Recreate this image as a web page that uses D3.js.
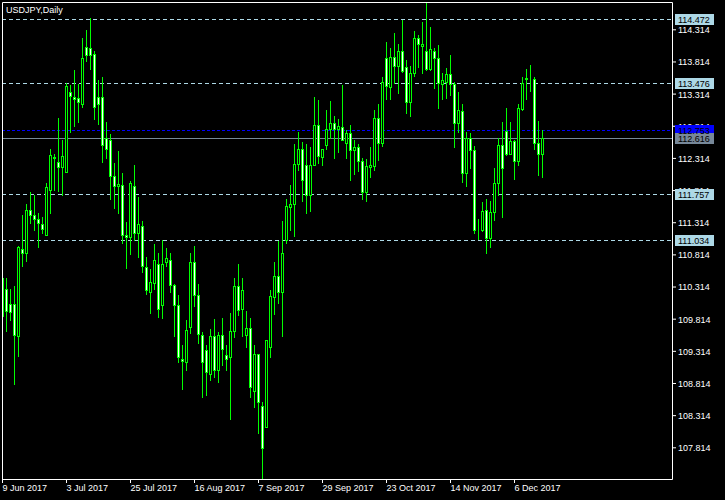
<!DOCTYPE html>
<html>
<head>
<meta charset="utf-8">
<script src="https://cdn.jsdelivr.net/npm/d3@7/dist/d3.min.js"></script>
<style>
  html, body { margin: 0; padding: 0; background: #000; }
  svg { display: block; }
  text { font-family: "Liberation Sans", Arial, sans-serif; font-size: 9px; }
</style>
</head>
<body>
<svg id="chart" width="725" height="500"></svg>
<script>
// ---- data (USDJPY, Daily, 9 Jun 2017 .. 15 Dec 2017) ----
const openP = [109.85,110.28,110.05,110.04,109.54,110.89,110.84,111.51,111.43,111.36,111.29,111.12,111.82,112.33,112.25,112.17,112.10,113.34,113.26,113.24,
113.16,114.04,114.02,113.93,113.26,113.26,112.62,112.60,112.03,111.87,111.89,111.11,111.08,111.87,111.15,111.26,110.61,110.23,110.37,110.66,
110.02,110.70,110.73,110.34,110.03,109.19,109.14,109.69,110.69,110.19,109.56,109.33,108.96,109.55,109.02,109.56,109.25,109.22,109.62,110.33,
109.97,109.56,109.67,108.69,109.27,108.45,108.13,109.37,110.15,110.47,110.23,111.04,111.55,111.60,112.22,112.46,112.21,111.74,112.21,112.82,
112.33,112.51,112.76,112.85,112.76,112.80,112.55,112.70,112.43,112.48,112.27,111.78,112.18,112.19,112.93,112.54,113.86,113.42,113.89,113.75,
113.97,113.72,113.18,113.63,114.18,114.05,113.97,113.69,113.98,113.86,113.46,113.49,113.62,113.46,112.86,113.04,112.08,112.62,112.44,111.20,
111.19,111.51,111.07,111.47,111.92,112.52,112.74,112.38,112.57,112.27,113.08,113.55,113.55,113.54,112.54,112.38];
const highP = [110.50,110.45,110.27,110.33,110.95,111.42,111.60,111.78,111.74,111.45,111.39,111.93,112.46,112.38,112.93,112.60,113.48,113.45,113.68,113.46,
114.18,114.31,114.49,113.97,113.53,113.57,112.87,112.69,112.23,112.42,112.08,111.31,111.95,112.20,111.70,111.33,110.77,110.58,110.98,110.83,
111.04,110.92,110.83,110.35,110.18,109.40,109.80,110.84,110.94,110.36,109.61,109.41,109.65,109.81,109.61,109.83,109.41,109.90,110.44,110.67,
110.44,109.93,109.83,109.40,109.27,108.52,109.49,110.26,110.70,111.02,111.33,111.67,111.89,112.53,112.72,112.56,112.53,112.48,113.26,113.22,
112.46,113.06,113.20,112.96,112.92,113.45,112.75,112.83,112.59,112.53,112.31,112.29,112.48,113.06,113.15,113.58,114.11,114.02,114.26,114.09,
114.46,113.84,113.75,114.29,114.23,114.43,114.73,114.35,114.02,114.07,113.63,113.71,113.92,113.49,113.34,113.15,112.72,112.70,112.50,111.37,
111.63,111.68,111.64,112.15,112.63,112.87,113.09,112.87,112.60,113.16,113.58,113.69,113.76,113.57,112.89,112.75];
const lowP = [109.78,109.62,109.80,108.80,109.24,110.63,110.71,111.30,111.19,110.93,111.15,111.11,111.45,111.81,111.80,111.73,112.10,112.72,112.81,112.88,
113.11,113.82,113.70,112.92,112.84,112.25,112.32,111.68,111.54,111.46,110.99,110.60,110.82,111.04,110.77,110.54,110.20,109.90,110.27,109.84,
109.83,110.63,110.23,109.54,109.14,108.72,109.01,109.59,110.01,109.44,108.59,108.62,108.86,108.91,108.83,109.09,109.01,108.25,109.53,109.87,
109.54,109.37,108.60,108.44,108.03,107.31,108.13,109.22,109.89,110.06,109.54,110.99,111.19,111.10,112.13,111.65,111.46,111.49,112.21,112.24,
112.21,112.46,112.62,112.32,112.41,112.60,112.32,111.97,112.06,112.11,111.67,111.65,112.02,112.13,112.28,112.50,113.23,113.23,113.48,113.33,
113.65,113.02,112.96,113.59,113.73,113.63,113.68,113.68,113.40,113.09,113.23,113.24,113.30,112.48,112.72,111.94,111.88,112.16,111.14,111.05,
111.17,110.84,110.93,111.35,111.73,111.40,112.36,112.37,111.98,112.20,113.06,113.23,113.36,112.45,112.05,112.02];
const closeP = [110.45,109.94,109.92,109.56,110.93,110.83,111.51,111.43,111.36,111.30,111.21,111.86,112.36,112.32,112.17,112.35,113.44,113.27,113.23,113.18,
113.86,113.91,113.92,113.11,113.15,112.52,112.46,112.03,111.88,111.91,111.12,111.09,111.93,111.14,111.29,110.63,110.26,110.38,110.73,109.97,
110.67,110.75,110.34,110.03,109.22,109.15,109.64,110.69,110.19,109.58,109.14,108.98,109.55,109.01,109.56,109.35,109.19,109.63,110.33,109.95,
110.26,109.67,108.75,109.27,108.52,107.81,109.49,110.16,110.47,110.23,110.83,111.56,111.60,112.22,112.46,111.97,111.74,112.21,112.82,112.34,
112.45,112.76,112.85,112.76,112.81,112.60,112.70,112.43,112.48,112.27,111.79,112.19,112.20,112.93,112.54,113.49,113.43,113.89,113.75,113.97,
113.67,113.18,113.63,114.18,114.08,114.08,113.69,114.00,113.86,113.48,113.52,113.62,113.46,112.86,113.06,112.08,112.62,112.43,111.19,111.19,
111.49,111.07,111.47,111.92,112.52,112.15,112.37,112.57,112.27,113.09,113.48,113.54,113.55,112.54,112.38,112.62];

const xTickIndex  = [0, 16, 32, 48, 64, 80, 96, 112, 128];
const xTickLabels = ["9 Jun 2017","3 Jul 2017","25 Jul 2017","16 Aug 2017","7 Sep 2017","29 Sep 2017","23 Oct 2017","14 Nov 2017","6 Dec 2017"];
const yTicks = [114.314,113.814,113.314,112.814,112.314,111.814,111.314,110.814,110.314,109.814,109.314,108.814,108.314,107.814];
const levelLines = [114.472, 113.476, 111.757, 111.034];
const askPrice = 112.753;
const bidPrice = 112.616;
const title = "USDJPY,Daily";

// ---- layout ----
const L = 2, R = 672, T = 2, B = 479;
const svg = d3.select("#chart");
svg.append("rect").attr("width", 725).attr("height", 500).attr("fill", "#000");

const n = openP.length;
const x = d3.scaleLinear().domain([0, 135]).range([2, 542]);
const y = d3.scaleLinear().domain([107.814, 114.314]).range([447.3, 29.3]);
const py = v => Math.round(y(v));

svg.append("defs").append("clipPath").attr("id", "plot")
  .append("rect").attr("x", L).attr("y", T).attr("width", R - L).attr("height", B - T);

const plot = svg.append("g").attr("clip-path", "url(#plot)");

// horizontal level lines
plot.selectAll("line.lvl").data(levelLines).join("line")
  .attr("x1", L).attr("x2", R)
  .attr("y1", d => py(d) + 0.5).attr("y2", d => py(d) + 0.5)
  .attr("stroke", "#add8e6").attr("stroke-width", 1).attr("stroke-dasharray", "4,3");

plot.append("line").attr("x1", L).attr("x2", R)
  .attr("y1", py(askPrice) + 0.5).attr("y2", py(askPrice) + 0.5)
  .attr("stroke", "#0000ff").attr("stroke-dasharray", "3,2");
plot.append("line").attr("x1", L).attr("x2", R)
  .attr("y1", py(bidPrice) + 0.5).attr("y2", py(bidPrice) + 0.5)
  .attr("stroke", "#778899");

// candles
const idx = d3.range(n);
plot.selectAll("line.wick").data(idx).join("line")
  .attr("x1", i => Math.round(x(i)) + 0.5).attr("x2", i => Math.round(x(i)) + 0.5)
  .attr("y1", i => py(highP[i])).attr("y2", i => py(lowP[i]) + 1)
  .attr("stroke", "#00ff00").attr("stroke-width", 1);

plot.selectAll("rect.body").data(idx).join("rect")
  .attr("x", i => Math.round(x(i)) - 0.5)
  .attr("y", i => py(Math.max(openP[i], closeP[i])) + 0.5)
  .attr("width", 2)
  .attr("height", i => Math.max(0, py(Math.min(openP[i], closeP[i])) - py(Math.max(openP[i], closeP[i]))))
  .attr("fill", i => closeP[i] < openP[i] ? "#ffffff" : "#000000")
  .attr("stroke", "#00ff00").attr("stroke-width", 1);

// frame
svg.append("path")
  .attr("d", `M${L + 0.5},${B + 0.5}V${T + 0.5}H${R + 0.5}V${B + 0.5}H${L + 0.5}`)
  .attr("fill", "none").attr("stroke", "#fff");

// y axis (right)
const yAxis = d3.axisRight(y).tickValues(yTicks).tickSize(4).tickPadding(2)
  .tickFormat(d => d.toFixed(3));
const gy = svg.append("g").attr("transform", `translate(${R},0)`).call(yAxis);
gy.select(".domain").remove();
gy.selectAll(".tick line").attr("stroke", "#fff");
gy.selectAll(".tick text").attr("fill", "#fff").attr("dy", "0.38em")
  .style("font-family", '"Liberation Sans", Arial, sans-serif').style("font-size", "9px");

// price labels
const boxes = [
  ...levelLines.map(v => ({v, bg: "#add8e6", fg: "#000"})),
  {v: askPrice, bg: "#0000ff", fg: "#000"},
  {v: bidPrice, bg: "#778899", fg: "#000"}
];
const gb = svg.append("g");
gb.selectAll("rect").data(boxes).join("rect")
  .attr("x", 675).attr("y", d => py(d.v) - 5).attr("width", 39).attr("height", 11)
  .attr("fill", d => d.bg);
gb.selectAll("text").data(boxes).join("text")
  .attr("x", 678).attr("y", d => py(d.v) + 4)
  .attr("fill", d => d.fg).text(d => d.v.toFixed(3));

// x axis (bottom)
const xAxis = d3.axisBottom(x).tickValues(xTickIndex).tickSize(4).tickPadding(2)
  .tickFormat((d, k) => xTickLabels[k]);
const gx = svg.append("g").attr("transform", `translate(0,${B})`).call(xAxis);
gx.select(".domain").remove();
gx.selectAll(".tick line").attr("stroke", "#fff");
gx.selectAll(".tick text").attr("fill", "#fff").attr("text-anchor", "start").attr("x", 0)
  .style("font-family", '"Liberation Sans", Arial, sans-serif').style("font-size", "9px");

// title
svg.append("text").attr("x", 6).attr("y", 13).attr("fill", "#fff").text(title);
</script>
</body>
</html>
